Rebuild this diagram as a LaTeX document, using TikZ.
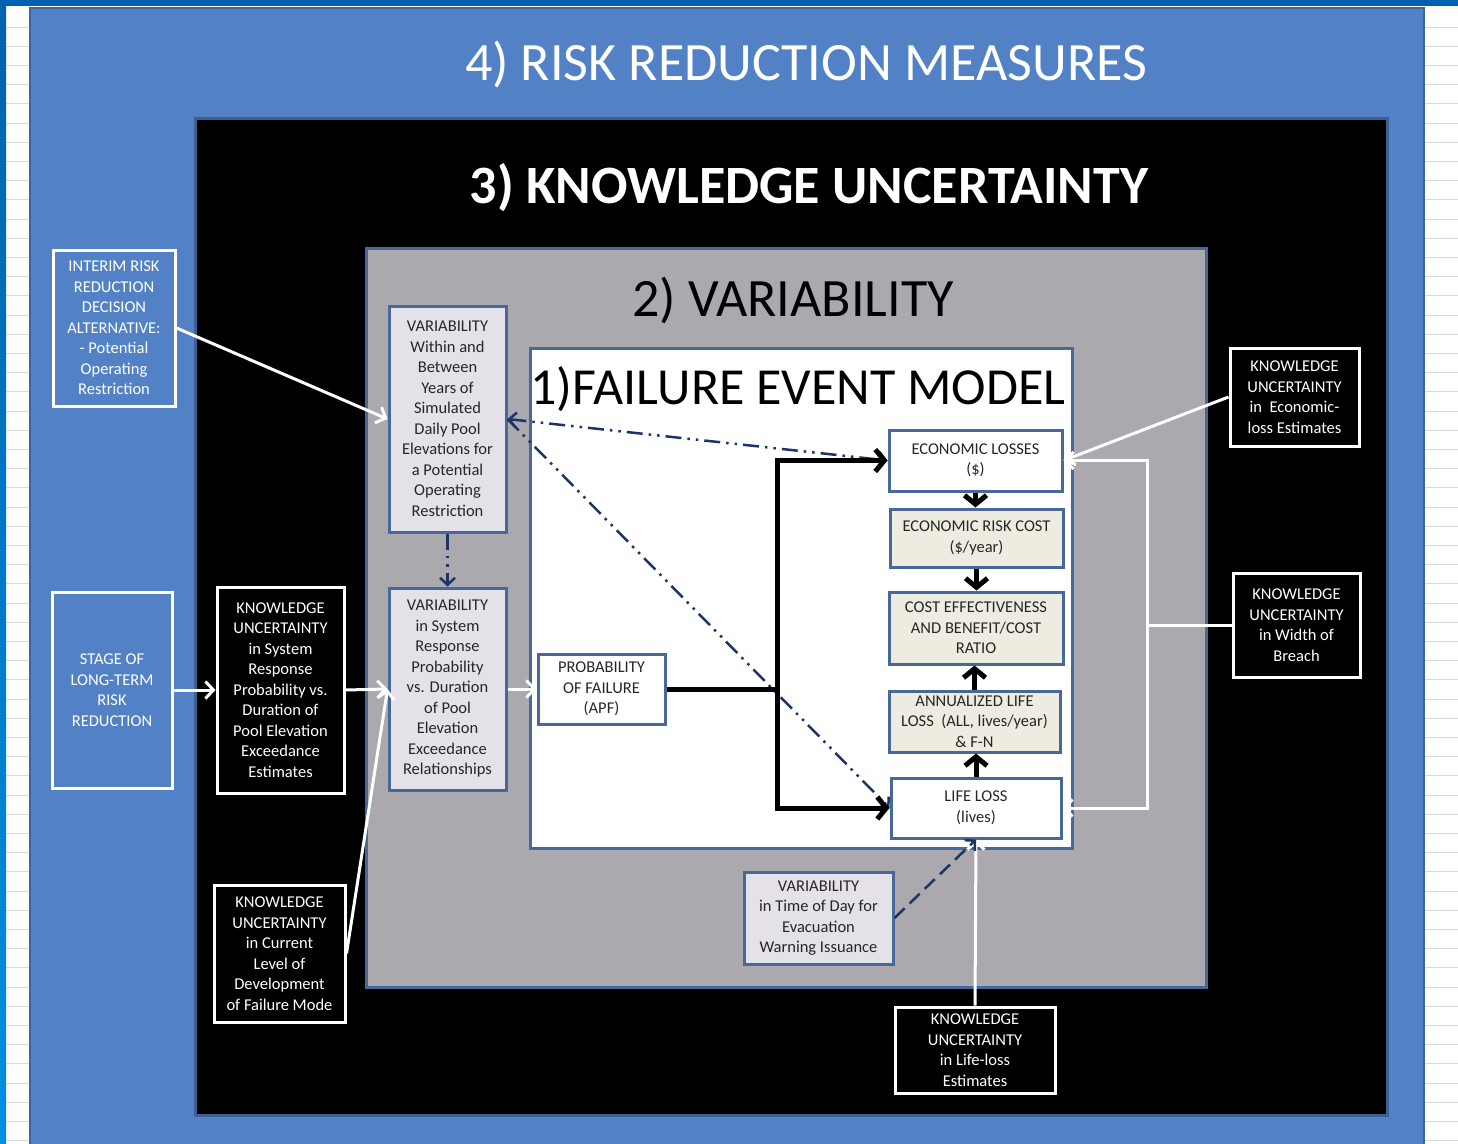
\documentclass[tikz,border=0pt]{standalone}
\usepackage{fontspec}
\setmainfont{Carlito}
\usetikzlibrary{arrows.meta,calc}
\definecolor{outerblue}{HTML}{5282C5}
\definecolor{outerborder}{HTML}{3B64A0}
\definecolor{topblue}{HTML}{0062AE}
\definecolor{lowblue}{HTML}{0090E0}
\definecolor{blackborder}{HTML}{3E5F92}
\definecolor{grayfill}{HTML}{ABA8AE}
\definecolor{boxblue}{HTML}{46689A}
\definecolor{varfill}{HTML}{E4E2E8}
\definecolor{beige}{HTML}{EEECE1}
\definecolor{darktext}{HTML}{262626}
\definecolor{navy}{HTML}{1B3566}
\definecolor{gridline}{HTML}{D9D9D9}
\tikzset{
  txt/.style={font=\fontsize{16.5}{20.5}\selectfont, align=center, inner sep=0pt},
  sz/.style 2 args={minimum width=#1pt, minimum height=#2pt},
  wbox/.style={txt, draw=white, line width=3pt, text=white},
  bbox/.style={txt, draw=boxblue, line width=3pt, text=darktext},
  wa/.style={draw=white, line width=3pt, -{Straight Barb[length=8pt,width=17pt]}},
  wl/.style={draw=white, line width=3pt},
  ba/.style={draw=black, line width=5pt, -{Straight Barb[length=9pt,width=22pt]}},
  bl/.style={draw=black, line width=5pt},
  navydd/.style={draw=navy, line width=2.5pt, dash pattern=on 16pt off 6pt on 2.5pt off 6pt on 2.5pt off 6pt},
  navydash/.style={draw=navy, line width=2.5pt, dash pattern=on 14pt off 7pt},
  ntip/.style={-{Straight Barb[length=7pt,width=15pt]}},
  ttl/.style={inner sep=0pt, font=\fontsize{54}{60}\selectfont}
}
\begin{document}
\begin{tikzpicture}[x=1pt,y=-1pt]
\useasboundingbox (0,0) rectangle (1458,1143);
% page background
\fill[white] (0,0) rectangle (1458,1143);
\foreach \i in {0,...,58} {
  \draw[gridline, line width=1pt] (6,{27+\i*19.2}) -- (30,{27+\i*19.2});
  \draw[gridline, line width=1pt] (1425,{27+\i*19.2}) -- (1458,{27+\i*19.2});
}
\shade[top color=topblue, bottom color=lowblue] (0,0) rectangle (6,1143);
\fill[topblue] (0,0) rectangle (1458,6);
% nested frames
\filldraw[fill=outerblue, draw=outerborder, line width=2pt] (30,8) rectangle (1424,1152);
\filldraw[fill=black, draw=blackborder, line width=3pt] (195,118) rectangle (1387,1115);
\filldraw[fill=grayfill, draw=boxblue, line width=3pt] (366,248) rectangle (1206,987);
\filldraw[fill=white, draw=boxblue, line width=3pt] (530,348) rectangle (1072,848);
% titles
\node[ttl, text=white] (t4) at (806,64) {4) RISK REDUCTION MEASURES};
\node[ttl, text=white, font=\fontsize{54}{60}\selectfont\bfseries] (t3) at (809,188) {3) KNOWLEDGE UNCERTAINTY};
\node[ttl, text=black] (t2) at (793,300) {2) VARIABILITY};
\node[ttl, text=black, font=\fontsize{52}{58}\selectfont] (t1) at (798,389) {1)FAILURE EVENT MODEL};
% boxes
\node[wbox, fill=outerblue, sz={122}{156}] (interim) at (114,328) {INTERIM RISK\\REDUCTION\\DECISION\\ALTERNATIVE:\\- Potential\\Operating\\Restriction};
\node[wbox, fill=outerblue, sz={120}{196}] (stage) at (112,690) {STAGE OF\\LONG-TERM\\RISK\\REDUCTION};
\node[wbox, fill=black, sz={127}{206}] (ku1) at (280.5,690) {KNOWLEDGE\\UNCERTAINTY\\in System\\Response\\Probability vs.\\Duration of\\Pool Elevation\\Exceedance\\Estimates};
\node[wbox, fill=black, sz={131}{137}] (ku2) at (279.5,953.5) {KNOWLEDGE\\UNCERTAINTY\\in Current\\Level of\\Development\\of Failure Mode};
\node[bbox, fill=varfill, sz={117}{226}] (var1) at (447.5,419) {VARIABILITY\\Within and\\Between\\Years of\\Simulated\\Daily Pool\\Elevations for\\a Potential\\Operating\\Restriction};
\node[bbox, fill=varfill, sz={117}{202}] (var2) at (447.5,689) {VARIABILITY\\in System\\Response\\Probability\\vs. Duration\\of Pool\\Elevation\\Exceedance\\Relationships};
\node[bbox, fill=white, sz={127}{70}] (pof) at (601.5,689) {PROBABILITY\\OF FAILURE\\(APF)};
\node[bbox, fill=white, sz={173}{61}] (el) at (975.5,460.5) {ECONOMIC LOSSES\\(\$)};
\node[bbox, fill=beige, sz={173}{58}] (erc) at (976.5,538) {ECONOMIC RISK COST\\(\$/year)};
\node[bbox, fill=beige, sz={174}{72}] (ce) at (976,628) {COST EFFECTIVENESS\\AND BENEFIT/COST\\RATIO};
\node[bbox, fill=beige, sz={171}{61}] (al) at (974.5,721.5) {ANNUALIZED LIFE\\LOSS~ (ALL, lives/year)\\\& F-N};
\node[bbox, fill=white, sz={170}{60}] (ll) at (976,808) {LIFE LOSS\\(lives)};
\node[bbox, fill=varfill, sz={149}{92}] (vt) at (818.5,918) {VARIABILITY\\in Time of Day for\\Evacuation\\Warning Issuance};
\node[wbox, fill=black, sz={129}{98}] (kue) at (1294.5,397) {KNOWLEDGE\\UNCERTAINTY\\in~ Economic-\\loss Estimates};
\node[wbox, fill=black, sz={127}{104}] (kub) at (1296.5,625) {KNOWLEDGE\\UNCERTAINTY\\in Width of\\Breach};
\node[wbox, fill=black, sz={160}{86}] (kul) at (975,1050) {KNOWLEDGE\\UNCERTAINTY\\in Life-loss\\Estimates};
% junction coordinates
\coordinate (jn) at (777,689);
\coordinate (kj) at (1147,625);
% white connectors
\draw[wa] (interim.east) -- (var1.west);
\draw[wa] (stage.east) -- (ku1.west);
\draw[wa] (ku1.east) -- (var2.west);
\draw[wa] (ku2.east) -- (var2.west);
\draw[wa] (var2.east) -- (pof.west);
\draw[wa] (kue.west) -- (el.east);
\draw[wl] (kub.west) -- (kj);
\draw[wa] (kj) |- (el.east);
\draw[wa] (kj) |- (ll.east);
\draw[wa] (kul.north) -- (ll.south);
% navy connectors
\draw[navydd, ntip] (var1.south) -- (var2.north);
\draw[navydd, {Straight Barb[length=7pt,width=15pt]}-{Straight Barb[length=7pt,width=15pt]}] (var1.east) -- (el.west);
\draw[navydd, ntip] (var1.east) -- (ll.west);
\draw[navydash, ntip] (vt.east) -- (ll.south);
% black connectors
\draw[bl] (pof.east) -- (jn);
\draw[ba] (jn) |- (el.west);
\draw[ba] (jn) |- (ll.west);
\draw[ba] (el.south) -- (el.south |- erc.north);
\draw[ba] (erc.south) -- (erc.south |- ce.north);
\draw[ba] (al.north) -- (al.north |- ce.south);
\draw[ba] (ll.north) -- (ll.north |- al.south);
\end{tikzpicture}
\end{document}
